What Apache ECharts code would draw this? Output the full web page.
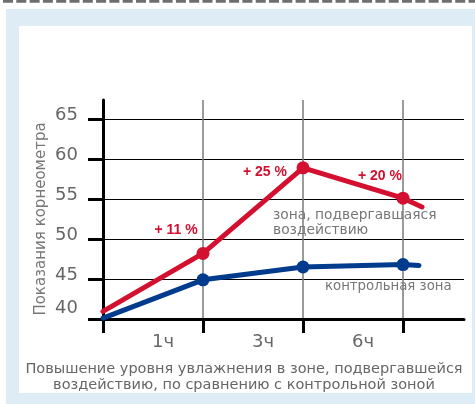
<!DOCTYPE html>
<html>
<head>
<meta charset="utf-8">
<script src="https://cdn.jsdelivr.net/npm/echarts@6/dist/echarts.min.js"></script>
<style>
html,body{margin:0;padding:0;background:#fff;}
#chart{width:475px;height:404px;}
</style>
</head>
<body>
<div id="chart"></div>
<script>
// ---- data ----
const xTickLabels = ['1ч', '3ч', '6ч'];
const redX  = [0, 1, 2, 3, 3.19];
const redY  = [40.95, 48.2, 58.9, 55.1, 54.0];
const blueX = [0, 1, 2, 3, 3.16];
const blueY = [40.1, 44.9, 46.5, 46.8, 46.7];
const pctLabels = ['', '+ 11 %', '+ 25 %', '+ 20 %', ''];
const redSeriesName  = 'зона, подвергавшаяся\nвоздействию';
const blueSeriesName = 'контрольная зона';
const yAxisTitle = 'Показания корнеометра';
const captionText = 'Повышение уровня увлажнения в зоне, подвергавшейся\nвоздействию, по сравнению с контрольной зоной';

const RED = '#d3102f', BLUE = '#013b8d', GRAY = '#666';
const FONT = 'DejaVu Sans';

const pctOffsets = [null, [-27, -23], [-38, 4], [-23, -22], null];

function buildData(xs, ys, color, lastLabel) {
  return xs.map((x, i) => {
    const item = { value: [x, ys[i]], symbolSize: (i >= 1 && i <= 3) ? 13 : 0 };
    if (color === RED && pctLabels[i]) {
      item.label = {
        show: true, position: 'inside', formatter: pctLabels[i],
        offset: pctOffsets[i], color: RED, fontFamily: 'Liberation Sans',
        fontWeight: 'bold', fontSize: 14, align: 'center', verticalAlign: 'middle'
      };
    }
    if (i === xs.length - 1) item.label = lastLabel;
    return item;
  });
}

const chart = echarts.init(document.getElementById('chart'), null, {renderer: 'canvas'});
chart.setOption({
  animation: false,
  textStyle: { fontFamily: FONT },
  graphic: [
    { type: 'rect', z: -100, shape: { x: 6, y: 9, width: 469, height: 395 }, style: { fill: '#deedf5' } },
    { type: 'rect', z: -99, shape: { x: 19, y: 26, width: 453, height: 367 }, style: { fill: '#ffffff' } },
    { type: 'line', z: -98, shape: { x1: 3, y1: 1.3, x2: 475, y2: 1.3 }, style: { stroke: '#6e6e6e', lineWidth: 2.7, lineDash: [10, 3.3] } }
  ],
  title: {
    text: captionText, left: 239, top: 356, textAlign: 'center',
    textStyle: { fontFamily: FONT, fontSize: 14.5, fontWeight: 'normal', color: GRAY, lineHeight: 16 }
  },
  grid: [
    { left: 103, top: 119, width: 300, height: 200 },
    { left: 103, top: 100, width: 361, height: 219 }
  ],
  xAxis: [
    {
      gridIndex: 0, type: 'value', min: 0, max: 3, interval: 1,
      axisLine: { show: false },
      axisTick: { show: true, length: 14, lineStyle: { color: '#000', width: 3 } },
      splitLine: { show: false },
      axisLabel: {
        show: true, margin: 14, fontSize: 18, color: GRAY, fontFamily: FONT,
        align: 'center', padding: [0, 0, 0, 120],
        formatter: v => xTickLabels[v] || ''
      }
    },
    {
      gridIndex: 1, type: 'value', min: 0, max: 3.61, interval: 1,
      axisLine: { show: true, lineStyle: { color: '#000', width: 3 } },
      axisTick: { show: false }, axisLabel: { show: false },
      splitLine: { show: true, showMinLine: false, showMaxLine: false, lineStyle: { color: '#7a7a7a', width: 1.5 } }
    }
  ],
  yAxis: [
    {
      gridIndex: 0, type: 'value', min: 40, max: 65, interval: 5,
      axisLine: { show: false },
      axisTick: { show: true, length: 15, lineStyle: { color: '#000', width: 3 } },
      splitLine: { show: false },
      axisLabel: {
        margin: 25, color: GRAY, fontSize: 18, fontFamily: FONT,
        formatter: v => (v === 40 ? '{lo|' + v + '}' : '{n|' + v + '}'),
        rich: {
          n: { fontSize: 18, color: GRAY, fontFamily: FONT, padding: [0, 0, 8, 0] },
          lo: { fontSize: 18, color: GRAY, fontFamily: FONT, padding: [0, 0, 22, 0] }
        }
      },
      name: yAxisTitle, nameLocation: 'middle', nameRotate: 90, nameGap: 54,
      nameMoveOverlap: false,
      nameTextStyle: { fontSize: 15, color: '#777', fontFamily: FONT }
    },
    {
      gridIndex: 1, type: 'value', min: 40, max: 67.375, interval: 5,
      axisLine: { show: true, lineStyle: { color: '#000', width: 3 } },
      axisTick: { show: false }, axisLabel: { show: false },
      splitLine: { show: true, showMinLine: false, showMaxLine: false, lineStyle: { color: '#000', width: 1 } }
    }
  ],
  series: [
    {
      name: 'control', type: 'line', xAxisIndex: 1, yAxisIndex: 1, clip: false,
      symbol: 'circle', showSymbol: true, z: 3,
      lineStyle: { color: BLUE, width: 5, cap: 'round' }, itemStyle: { color: BLUE },
      data: buildData(blueX, blueY, BLUE, {
        show: true, position: 'inside', formatter: blueSeriesName, align: 'left', verticalAlign: 'middle',
        offset: [-94, 21], color: '#777', fontSize: 13.3, fontFamily: FONT
      })
    },
    {
      name: 'treated', type: 'line', xAxisIndex: 1, yAxisIndex: 1, clip: false,
      symbol: 'circle', showSymbol: true, z: 4,
      lineStyle: { color: RED, width: 5, cap: 'round' }, itemStyle: { color: RED },
      data: buildData(redX, redY, RED, {
        show: true, position: 'inside', formatter: redSeriesName, align: 'left', verticalAlign: 'middle',
        offset: [-149, 16], color: '#777', fontSize: 13.8, lineHeight: 15, fontFamily: FONT
      })
    }
  ]
});
</script>
</body>
</html>
